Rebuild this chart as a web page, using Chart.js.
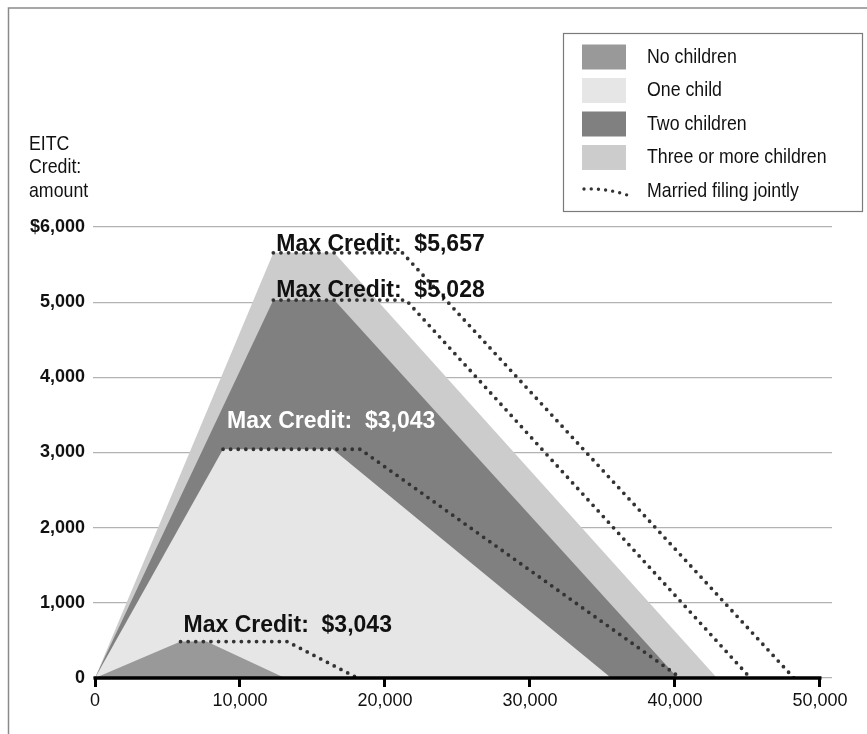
<!DOCTYPE html>
<html>
<head>
<meta charset="utf-8">
<script src="https://cdn.jsdelivr.net/npm/chart.js@4.4.1/dist/chart.umd.min.js"></script>
<style>
  html, body { margin: 0; padding: 0; background: #fff; }
  canvas { display: block; }
</style>
</head>
<body>
<canvas id="eitcChart" width="867" height="734"></canvas>
<script>
// earned income (x) and credit amount (y)
const noChildX = [0, 5900, 7700, 13100];
const noChildY = [0, 485, 485, 0];
const oneChildX = [0, 8830, 16400, 35600];
const oneChildY = [0, 3043, 3043, 0];
const twoChildX = [0, 12300, 16500, 40200];
const twoChildY = [0, 5028, 5028, 0];
const threeChildX = [0, 12300, 16500, 42900];
const threeChildY = [0, 5657, 5657, 0];

// married filing jointly (dotted)
const marriedNoneX = [5900, 13250, 18100];
const marriedNoneY = [485, 485, 0];
const marriedOneX = [8830, 18300, 40400];
const marriedOneY = [3043, 3043, 0];
const marriedTwoX = [12300, 21450, 45200];
const marriedTwoY = [5028, 5028, 0];
const marriedThreeX = [12300, 21200, 48200];
const marriedThreeY = [5657, 5657, 0];

const incomeTicks = [0, 10000, 20000, 30000, 40000, 50000];
const creditTicks = [0, 1000, 2000, 3000, 4000, 5000, 6000];
const legendLabels = ['No children', 'One child', 'Two children', 'Three or more children', 'Married filing jointly'];
const maxCreditText = ['$3,043', '$3,043', '$5,028', '$5,657'];
const yTitleLines = ['EITC', 'Credit:', 'amount'];

const fillColors = ['#999999', '#e6e6e6', '#808080', '#cccccc'];
const dotColor = '#333333';
const FONT = "'Liberation Sans', Arial, sans-serif";
const SQUEEZE = 0.845;

const pts = (xs, ys) => xs.map((x, i) => ({x: x, y: ys[i]}));

function area(label, xs, ys, color, order) {
    return {
        label: label, data: pts(xs, ys), fill: 'origin',
        backgroundColor: color, borderWidth: 0, pointRadius: 0, order: order
    };
}
function dotted(xs, ys) {
    return {
        label: 'Married filing jointly', data: pts(xs, ys), fill: false,
        borderColor: dotColor, borderWidth: 3.8, borderDash: [0, 7.6],
        borderCapStyle: 'round', borderJoinStyle: 'round', pointRadius: 0, order: 0
    };
}

const series = [
    [noChildX, noChildY],
    [oneChildX, oneChildY],
    [twoChildX, twoChildY],
    [threeChildX, threeChildY]
];

// annotation offsets from each peak, in px
const noteStyle = [
    {dx: 3, dy: -10, color: '#111'},
    {dx: 4, dy: -21, color: '#fff'},
    {dx: 3, dy: -3, color: '#111'},
    {dx: 3, dy: -2, color: '#111'}
];

// condensed text, like the narrow face in the original
function narrowText(ctx, t, x, y) {
    ctx.save();
    ctx.translate(x, y);
    ctx.scale(SQUEEZE, 1);
    ctx.fillText(t, 0, 0);
    ctx.restore();
}

const decorPlugin = {
    id: 'decor',
    afterDatasetsDraw(chart) {
        const ctx = chart.ctx;
        const xs = chart.scales.x, ys = chart.scales.y;
        ctx.save();

        // bottom axis line
        const y0 = ys.getPixelForValue(0);
        ctx.strokeStyle = '#000';
        ctx.lineWidth = 3.5;
        ctx.beginPath();
        ctx.moveTo(xs.getPixelForValue(incomeTicks[0]) - 1.5, y0);
        ctx.lineTo(xs.getPixelForValue(incomeTicks[incomeTicks.length - 1]) + 1.5, y0);
        ctx.stroke();

        // max credit notes
        ctx.font = 'bold 23px ' + FONT;
        ctx.textBaseline = 'alphabetic';
        ctx.textAlign = 'left';
        series.forEach((s, i) => {
            const px = xs.getPixelForValue(s[0][1]);
            const py = ys.getPixelForValue(s[1][1]);
            ctx.fillStyle = noteStyle[i].color;
            ctx.fillText('Max Credit:  ' + maxCreditText[i], px + noteStyle[i].dx, py + noteStyle[i].dy);
        });
        ctx.restore();
    },
    afterDraw(chart) {
        const ctx = chart.ctx;
        ctx.save();

        // frame
        ctx.strokeStyle = '#8a8a8a';
        ctx.lineWidth = 1.5;
        ctx.beginPath();
        ctx.moveTo(8.5, 734);
        ctx.lineTo(8.5, 8);
        ctx.lineTo(867, 8);
        ctx.stroke();

        // y title
        ctx.fillStyle = '#111';
        ctx.font = '21px ' + FONT;
        ctx.textAlign = 'left';
        ctx.textBaseline = 'alphabetic';
        yTitleLines.forEach((t, i) => narrowText(ctx, t, 29, 150 + i * 23.4));

        // legend
        ctx.strokeStyle = '#7a7a7a';
        ctx.lineWidth = 1.2;
        ctx.strokeRect(563.5, 33.5, 299, 178);
        ctx.textBaseline = 'middle';
        legendLabels.forEach((t, i) => {
            const cy = 57 + i * 33.5;
            if (i < 4) {
                ctx.fillStyle = fillColors[i];
                ctx.fillRect(582, cy - 12.5, 44, 25);
            } else {
                ctx.save();
                ctx.strokeStyle = dotColor;
                ctx.lineWidth = 3.4;
                ctx.lineCap = 'round';
                ctx.setLineDash([0, 7.2]);
                ctx.beginPath();
                ctx.moveTo(584, cy - 2);
                ctx.quadraticCurveTo(606, cy - 3, 627, cy + 4);
                ctx.stroke();
                ctx.restore();
            }
            ctx.fillStyle = '#111';
            narrowText(ctx, t, 647, cy);
        });
        ctx.restore();
    }
};

const datasets = [
    dotted(marriedNoneX, marriedNoneY),
    dotted(marriedOneX, marriedOneY),
    dotted(marriedTwoX, marriedTwoY),
    dotted(marriedThreeX, marriedThreeY),
    area(legendLabels[0], noChildX, noChildY, fillColors[0], 1),
    area(legendLabels[1], oneChildX, oneChildY, fillColors[1], 2),
    area(legendLabels[2], twoChildX, twoChildY, fillColors[2], 3),
    area(legendLabels[3], threeChildX, threeChildY, fillColors[3], 4)
];

const ctx = document.getElementById('eitcChart').getContext('2d');
const chart = new Chart(ctx, {
    type: 'line',
    data: {datasets: datasets},
    plugins: [decorPlugin],
    options: {
        responsive: false,
        animation: false,
        devicePixelRatio: 1,
        layout: {padding: {top: 227, right: 35, left: 0, bottom: 0}},
        plugins: {legend: {display: false}, tooltip: {enabled: false}},
        elements: {line: {tension: 0}},
        scales: {
            x: {
                type: 'linear',
                min: 0,
                max: 50828,
                afterBuildTicks: (scale) => { scale.ticks = incomeTicks.map(v => ({value: v})); },
                afterFit: (scale) => { scale.height = 56; },
                grid: {drawOnChartArea: false, drawTicks: true, tickLength: 9, tickWidth: 3, tickColor: '#000'},
                border: {display: false},
                ticks: {
                    autoSkip: false, maxRotation: 0, padding: 3,
                    color: '#111', font: {family: FONT, size: 18},
                    callback: (v) => v.toLocaleString('en-US')
                }
            },
            y: {
                min: 0,
                max: 6000,
                afterBuildTicks: (scale) => { scale.ticks = creditTicks.map(v => ({value: v})); },
                afterFit: (scale) => { scale.width = 95; },
                grid: {color: '#b3b3b3', lineWidth: 1.2, drawTicks: true, tickLength: 2, tickColor: '#b3b3b3'},
                border: {display: false},
                ticks: {
                    padding: 8, color: '#111',
                    font: {family: FONT, size: 18, weight: 'bold'},
                    callback: (v) => (v === 6000 ? '$' : '') + v.toLocaleString('en-US')
                }
            }
        }
    }
});
</script>
</body>
</html>
